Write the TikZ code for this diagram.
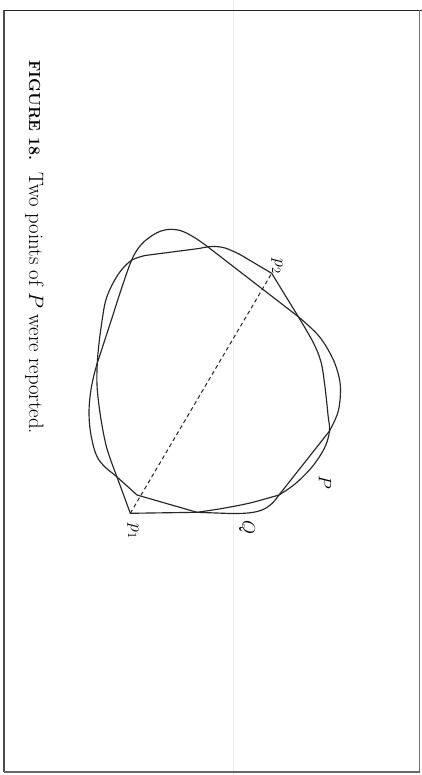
\RequirePackage{fix-cm}
\documentclass[tikz,border=0pt]{standalone}
\begin{document}
\begin{tikzpicture}[x=1pt,y=-1pt,
  curve/.style={line width=1.15pt, black!85, line join=round},
  dashline/.style={line width=1pt, black!85, dash pattern=on 4pt off 3pt},
  lbl/.style={rotate=-90, inner sep=0pt, font=\fontsize{18}{22}\selectfont}]
\useasboundingbox (0,0) rectangle (422,775);
\fill[white] (0,0) rectangle (422,775);
% scan fold line
\draw[black!8, line width=0.7pt] (233,0) -- (233,775);
% frame
\draw[line width=1.3pt, black!70] (4,10.5) -- (4,772);
\draw[line width=1.8pt, black!85] (3.5,10.5) -- (422,10.5);
\draw[line width=1pt, black!55] (419.5,10.5) -- (419.5,772);
\draw[line width=1.2pt, black!60] (4,772) -- (420,772);

\coordinate (p1) at (130.3,513.3);
\coordinate (p2) at (271.7,273.3);

% curve P
\draw[curve] (p1) -- (117,477)
  -- plot[smooth, tension=0.55] coordinates {(117,477) (106.5,447) (100,413) (97,385) (97.3,363) (98.8,345) (101,328) (105.3,302) (112,285) (121,270.5) (132,260) (145,255.5)}
  -- (199,248.5)
  -- plot[smooth, tension=0.6] coordinates {(199,248.5) (212,246.5) (225,248) (240,254.5)}
  -- (p2) -- (298.3,316.7)
  -- plot[smooth, tension=0.55] coordinates {(298.3,316.7) (313,342) (321,362) (325,387) (328,415) (329.5,431) (324.5,448) (312,467) (295,484) (279,495)}
  -- plot[smooth, tension=0.5] coordinates {(279,495) (250,503) (222,508.5) (197,512.3)}
  -- cycle;

% curve Q
\draw[curve] (97.3,363) -- (112,318)
  -- plot[smooth, tension=0.6] coordinates {(112,318) (122,287) (131.7,260) (140,246) (150,237) (161,231) (171.7,229.3) (183,231.5) (196,238.5) (208,247)}
  -- (298.3,316.7)
  -- plot[smooth, tension=0.6] coordinates {(298.3,316.7) (318,335) (331,355) (338,373) (340.5,390) (338,412) (329.5,431)}
  -- (279,495)
  -- plot[smooth, tension=0.6] coordinates {(279,495) (272,503.5) (262,510) (248,513) (230,513.5)}
  -- (197,512.3) -- (137,495)
  -- plot[smooth, tension=0.6] coordinates {(137,495) (117,477) (103,465) (95.5,453) (90.5,432) (89,412) (90.5,393) (93.5,377) (97.3,363)}
  -- cycle;

% chord
\draw[dashline] (p1) -- (p2);

% labels
\node[lbl] (lp1) at (133,531) {$p_1$};
\node[lbl] (lp2) at (277,266) {$p_2$};
\node[lbl] (lQ) at (247,527) {$Q$};
\node[lbl] (lP) at (325,482) {$P$};

% caption
\node[lbl, anchor=base west, font=\fontsize{16}{20}\selectfont\bfseries] (cap1) at (29,60) {FIGURE 18.};
\node[lbl, anchor=base west, font=\fontsize{20.8}{24}\selectfont] (cap2) at (29,172) {Two points of $P$ were reported.};
\end{tikzpicture}
\end{document}
